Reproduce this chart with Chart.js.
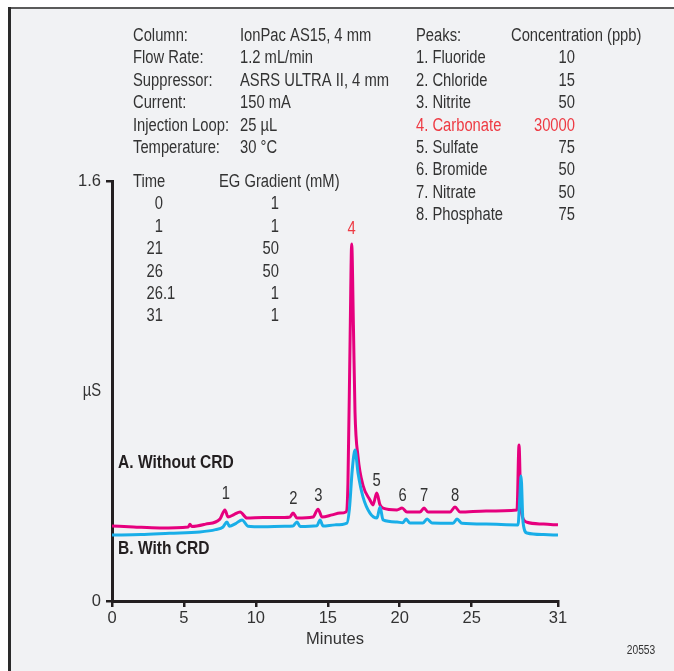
<!DOCTYPE html>
<html lang="en">
<head>
<title>Carbonate removal chromatogram</title>
<script src="https://cdn.jsdelivr.net/npm/chart.js@4.4.1/dist/chart.umd.min.js"></script>
<style>
    body { margin: 0; background: #fff; }
    canvas { display: block; }
</style>
</head>
<body>
<canvas id="myChart" width="674" height="671"></canvas>
<script>
// trace A: without CRD (minutes, uS)
var timeA = [0, 1.5, 3.3, 5.3, 5.42, 5.55, 6.5, 7.5, 7.85, 8.06, 8.5, 8.9, 9.38, 10.5, 12.0, 12.37, 12.58, 12.86, 13.97, 14.32, 14.6, 15.3, 15.85, 16.26, 16.4, 16.55, 16.66, 16.78, 16.89, 17.1, 17.45, 17.93, 18.14, 18.4, 18.63, 18.84, 19.81, 20.16, 20.5, 21.4, 21.69, 21.96, 23.5, 23.84, 24.19, 26, 28.15, 28.29, 28.43, 28.85, 30, 31];
var signalA = [0.286, 0.282, 0.278, 0.282, 0.292, 0.284, 0.293, 0.312, 0.347, 0.32, 0.33, 0.339, 0.316, 0.318, 0.318, 0.32, 0.335, 0.316, 0.32, 0.35, 0.32, 0.328, 0.335, 0.339, 0.45, 1.0, 1.36, 1.05, 0.72, 0.55, 0.44, 0.385, 0.366, 0.411, 0.366, 0.354, 0.347, 0.354, 0.339, 0.339, 0.354, 0.339, 0.339, 0.358, 0.339, 0.343, 0.347, 0.594, 0.347, 0.30, 0.293, 0.29];

// trace B: with CRD
var timeB = [0, 2, 4, 6.1, 7.2, 7.72, 7.99, 8.15, 8.6, 9.04, 9.45, 10.5, 12.0, 12.58, 12.86, 13.07, 14.25, 14.46, 14.67, 15.5, 16.33, 16.5, 16.7, 16.89, 17.1, 17.45, 17.93, 18.42, 18.63, 18.84, 19.81, 20.2, 20.44, 20.71, 21.6, 21.9, 22.24, 23.7, 23.98, 24.33, 26, 28.22, 28.35, 28.43, 28.57, 28.85, 30, 31];
var signalB = [0.251, 0.253, 0.258, 0.263, 0.272, 0.282, 0.301, 0.285, 0.295, 0.309, 0.285, 0.283, 0.285, 0.286, 0.301, 0.284, 0.287, 0.309, 0.286, 0.29, 0.297, 0.35, 0.5, 0.575, 0.488, 0.396, 0.335, 0.316, 0.358, 0.309, 0.301, 0.298, 0.312, 0.297, 0.297, 0.312, 0.297, 0.296, 0.312, 0.296, 0.293, 0.29, 0.40, 0.476, 0.30, 0.259, 0.253, 0.251];

var xTicks = [0, 5, 10, 15, 20, 25, 31];
var yTicks = [0, 1.6];

// peak numbers and where their labels sit (minutes, uS)
var peakNums = ['1', '2', '3', '4', '5', '6', '7', '8'];
var peakLabelTime = [7.92, 12.6, 14.35, 16.65, 18.4, 20.2, 21.7, 23.85];
var peakLabelLevel = [0.408, 0.389, 0.40, 1.417, 0.457, 0.40, 0.40, 0.40];

var condLabels = ['Column:', 'Flow Rate:', 'Suppressor:', 'Current:', 'Injection Loop:', 'Temperature:'];
var condValues = ['IonPac AS15, 4 mm', '1.2 mL/min', 'ASRS ULTRA II, 4 mm', '150 mA', '25 \u00B5L', '30 \u00B0C'];

var peakNames = ['1. Fluoride', '2. Chloride', '3. Nitrite', '4. Carbonate', '5. Sulfate', '6. Bromide', '7. Nitrate', '8. Phosphate'];
var peakConc = ['10', '15', '50', '30000', '75', '50', '50', '75'];

var gradTime = ['0', '1', '21', '26', '26.1', '31'];
var gradConc = ['1', '1', '50', '50', '1', '1'];

var FONT = '"Liberation Sans", Arial, sans-serif';
var NARROW = 0.82; // squeeze to look like a condensed face
var INK = '#333333';
var RED = '#ee3a43';
var PINK = '#e6007e';
var CYAN = '#19aee8';

function pts(xs, ys) {
    return xs.map(function (x, i) { return { x: x, y: ys[i] }; });
}

function txt(ctx, s, x, y, align, color, font) {
    ctx.save();
    ctx.font = font || '18px ' + FONT;
    ctx.fillStyle = color || INK;
    ctx.textAlign = align || 'left';
    ctx.textBaseline = 'middle';
    ctx.translate(x, y);
    ctx.scale(NARROW, 1);
    ctx.fillText(s, 0, 0);
    ctx.restore();
}

// frame + grey panel behind the chart
var panel = {
    id: 'panel',
    beforeDraw: function (chart) {
        var ctx = chart.ctx;
        ctx.save();
        ctx.fillStyle = '#ffffff';
        ctx.fillRect(0, 0, chart.width, chart.height);
        ctx.fillStyle = '#f1f2f4';
        ctx.fillRect(9, 8, chart.width, chart.height);
        ctx.fillStyle = '#5a5a5a';
        ctx.fillRect(9, 7, chart.width, 2);
        ctx.fillStyle = '#2a2a2a';
        ctx.fillRect(8, 7, 3, chart.height);
        ctx.restore();
    }
};

// all the text blocks
var notes = {
    id: 'notes',
    afterDraw: function (chart) {
        var ctx = chart.ctx;
        var xs = chart.scales.x, ys = chart.scales.y;
        var i;
        for (i = 0; i < condLabels.length; i++) {
            var cy = 36 + i * 22.4;
            txt(ctx, condLabels[i], 133, cy);
            txt(ctx, condValues[i], 240, cy);
        }
        txt(ctx, 'Peaks:', 416, 36);
        txt(ctx, 'Concentration (ppb)', 511, 36);
        for (i = 0; i < peakNames.length; i++) {
            var py = 58.4 + i * 22.4;
            var c = i === 3 ? RED : INK;
            txt(ctx, peakNames[i], 416, py, 'left', c);
            txt(ctx, peakConc[i], 575, py, 'right', c);
        }
        txt(ctx, 'Time', 133, 182);
        txt(ctx, 'EG Gradient (mM)', 219, 182);
        for (i = 0; i < gradTime.length; i++) {
            var gy = 204.4 + i * 22.4;
            var parts = gradTime[i].split('.');
            txt(ctx, parts[0], 163, gy, 'right');
            if (parts[1]) txt(ctx, '.' + parts[1], 163, gy, 'left');
            txt(ctx, gradConc[i], 279, gy, 'right');
        }
        for (i = 0; i < peakNums.length; i++) {
            txt(ctx, peakNums[i], xs.getPixelForValue(peakLabelTime[i]), ys.getPixelForValue(peakLabelLevel[i]),
                'center', i === 3 ? RED : INK);
        }
        txt(ctx, 'A. Without CRD', 118, 463, 'left', '#231f20', 'bold 19px ' + FONT);
        txt(ctx, 'B. With CRD', 118, 549, 'left', '#231f20', 'bold 19px ' + FONT);
        txt(ctx, '\u00B5S', 92, 391, 'center');
        txt(ctx, '20553', 641, 651, 'center', INK, '12.5px ' + FONT);
    }
};

Chart.defaults.font.family = FONT;
Chart.defaults.font.size = 16.5;
Chart.defaults.color = INK;

const ctx = document.getElementById('myChart').getContext('2d');
const myChart = new Chart(ctx, {
    type: 'line',
    data: {
        datasets: [{
            label: 'B. With CRD',
            data: pts(timeB, signalB),
            borderColor: CYAN,
            borderWidth: 3,
            pointRadius: 0,
            cubicInterpolationMode: 'monotone',
            order: 0
        }, {
            label: 'A. Without CRD',
            data: pts(timeA, signalA),
            borderColor: PINK,
            borderWidth: 3,
            pointRadius: 0,
            cubicInterpolationMode: 'monotone',
            order: 1
        }]
    },
    options: {
        responsive: false,
        animation: false,
        layout: { padding: { left: 72, top: 181, right: 116, bottom: 22 } },
        plugins: { legend: { display: false }, tooltip: { enabled: false } },
        scales: {
            x: {
                type: 'linear',
                min: 0,
                max: 31,
                afterBuildTicks: function (s) { s.ticks = xTicks.map(function (v) { return { value: v }; }); },
                afterFit: function (s) { s.height = 48; },
                ticks: { padding: 2, color: INK, font: { size: 16.5 } },
                grid: { drawOnChartArea: false, tickLength: 6, color: '#231f20', lineWidth: 2.5 },
                border: { width: 3, color: '#231f20' },
                title: { display: true, text: 'Minutes', color: INK, font: { size: 16.5 }, padding: 0 }
            },
            y: {
                type: 'linear',
                min: 0,
                max: 1.6,
                afterBuildTicks: function (s) { s.ticks = yTicks.map(function (v) { return { value: v }; }); },
                afterFit: function (s) { s.width = 40; },
                ticks: {
                    padding: 5,
                    color: INK,
                    font: { size: 16.5 },
                    callback: function (v) { return v === 0 ? '0' : v.toFixed(1); }
                },
                grid: { drawOnChartArea: false, tickLength: 6, color: '#231f20', lineWidth: 2.5 },
                border: { width: 3, color: '#231f20' }
            }
        }
    },
    plugins: [panel, notes]
});
</script>
</body>
</html>
